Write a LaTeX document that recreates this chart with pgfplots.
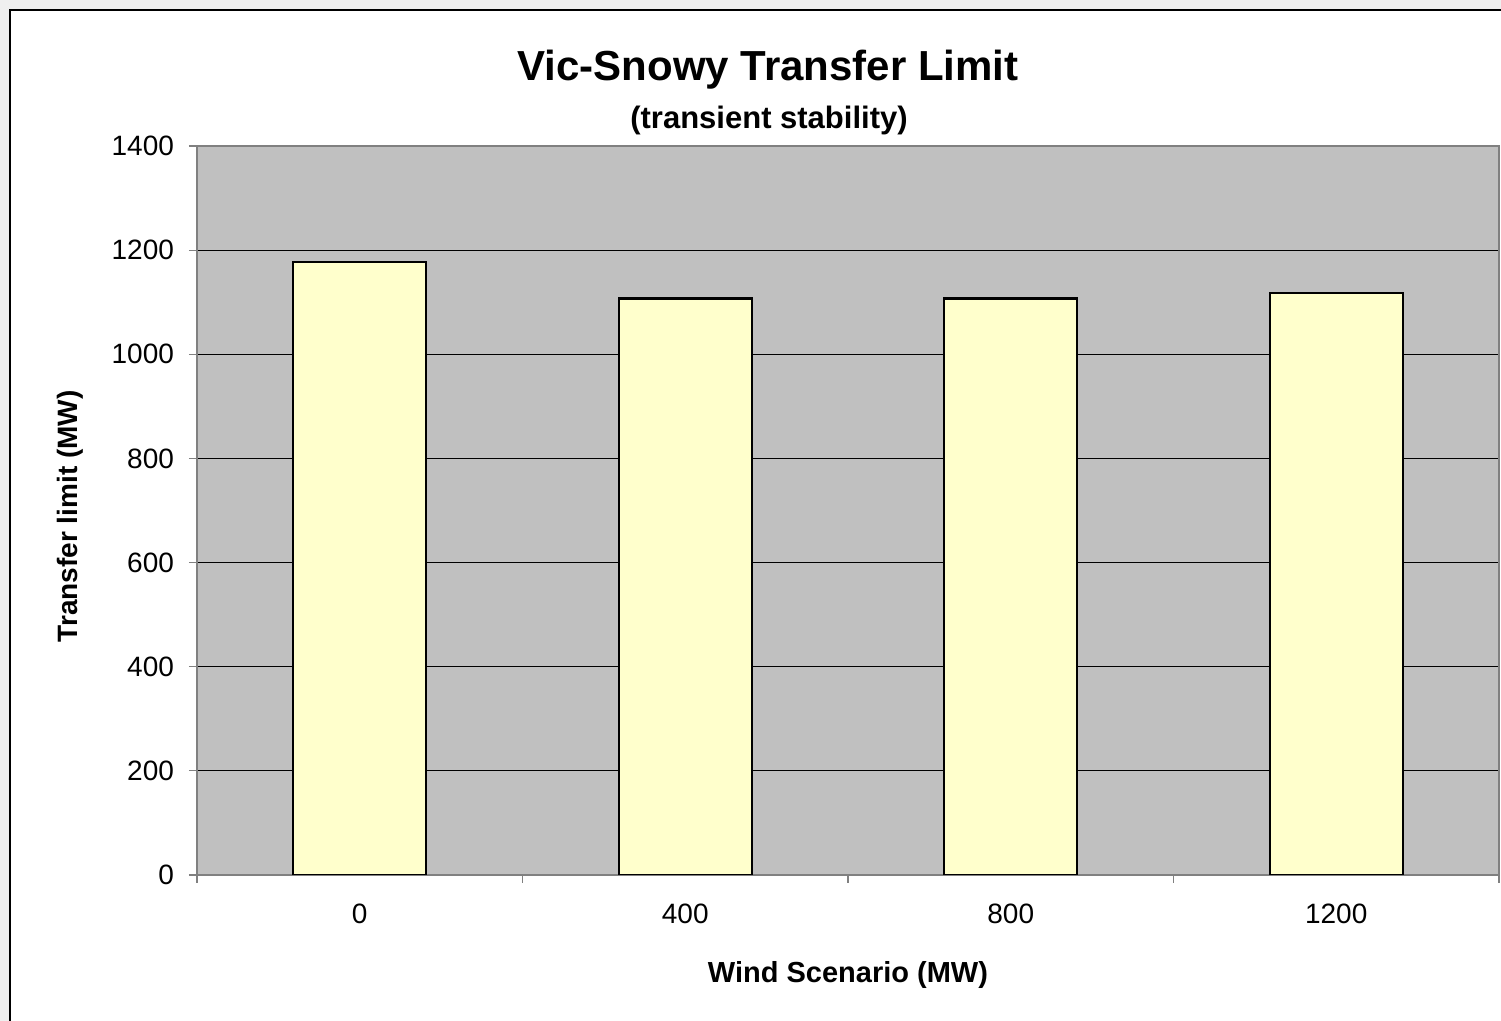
\documentclass[border=0pt]{standalone}
\usepackage{fontspec}
\setmainfont{Liberation Sans}
\usepackage{pgfplots}
\pgfplotsset{compat=1.18}
\definecolor{outerbg}{HTML}{EFEFEF}
\definecolor{plotbg}{HTML}{C0C0C0}
\definecolor{barfill}{HTML}{FFFFCC}
\definecolor{axgray}{HTML}{808080}
\begin{document}
\begin{tikzpicture}
\useasboundingbox (0,0) rectangle (750.5pt,510.5pt);
\fill[outerbg] (0,0) rectangle (750.5pt,510.5pt);
\filldraw[fill=white,draw=black,line width=0.6pt] (5pt,-5pt) rectangle (760pt,505.5pt);
\begin{axis}[
  at={(98.5pt,73pt)}, anchor=south west, scale only axis,
  width=651pt, height=364.5pt,
  xmin=-0.5, xmax=3.5, ymin=0, ymax=1400,
  ytick={0,200,...,1400},
  xtick={-0.5,0.5,1.5,2.5,3.5}, xticklabels={},
  extra x ticks={0,1,2,3}, extra x tick labels={0,400,800,1200},
  extra x tick style={major tick length=0pt, xticklabel style={yshift=-11pt}},
  tick align=outside, major tick length=4pt, tick pos=left,
  axis background/.style={fill=plotbg},
  axis line style={draw=axgray, line width=0.75pt},
  ymajorgrids, major grid style={black, line width=0.5pt},
  tick style={axgray, line width=0.6pt},
  /pgf/number format/assume math mode=true,
  /pgf/number format/1000 sep={},
  ticklabel style={font=\fontsize{14}{17}\selectfont},
  yticklabel style={xshift=-4pt},
  xlabel={Wind Scenario (MW)},
  ylabel={Transfer limit (MW)},
  xlabel style={font=\bfseries\fontsize{14.5}{17}\selectfont, at={(axis description cs:0.5,-0.137)}, anchor=center},
  ylabel style={font=\bfseries\fontsize{14}{17}\selectfont, at={(axis description cs:-0.0975,0.492)}, anchor=center},
]
\addplot[ybar, bar width=66.5pt, fill=barfill, draw=black, line width=1.1pt]
  coordinates {(0,1177) (1,1107) (2,1107) (3,1117)};
\end{axis}
\node[font=\bfseries\fontsize{21}{25}\selectfont] at (384pt,475.5pt) {Vic-Snowy Transfer Limit};
\node[font=\bfseries\fontsize{15.5}{18}\selectfont] at (384.5pt,450pt) {(transient stability)};
\end{tikzpicture}
\end{document}
